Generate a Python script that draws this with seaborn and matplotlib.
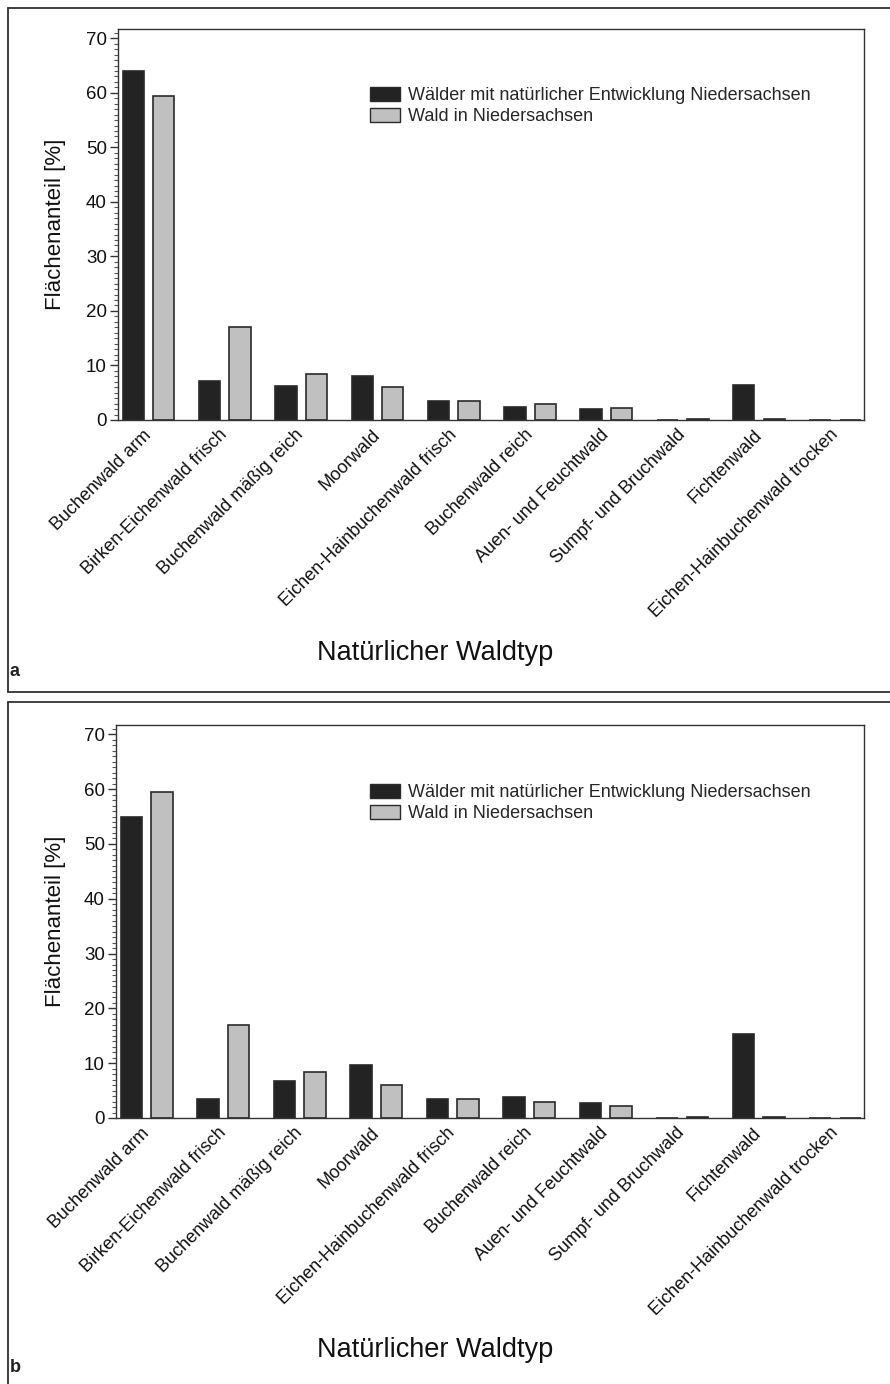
import matplotlib
matplotlib.use("Agg")
import matplotlib.pyplot as plt
import matplotlib.lines as mlines
from matplotlib.patches import Patch
from matplotlib.ticker import MultipleLocator
import pandas as pd
import seaborn as sns

# Natural forest types (x axis)
categories = [
    "Buchenwald arm",
    "Birken-Eichenwald frisch",
    "Buchenwald mäßig reich",
    "Moorwald",
    "Eichen-Hainbuchenwald frisch",
    "Buchenwald reich",
    "Auen- und Feuchtwald",
    "Sumpf- und Bruchwald",
    "Fichtenwald",
    "Eichen-Hainbuchenwald trocken",
]
series_names = [
    "Wälder mit natürlicher Entwicklung Niedersachsen",
    "Wald in Niedersachsen",
]

# Area share [%] per forest type
natural_a = [64.0, 7.1, 6.3, 8.1, 3.4, 2.4, 2.1, 0.0, 6.4, 0.0]
natural_b = [55.0, 3.5, 6.8, 9.6, 3.4, 3.8, 2.7, 0.0, 15.3, 0.0]
forest_nds = [59.5, 17.0, 8.4, 6.0, 3.5, 3.0, 2.2, 0.2, 0.1, 0.0]

y_ticks = [0, 10, 20, 30, 40, 50, 60, 70]
panel_letters = ["a", "b"]
x_title = "Natürlicher Waldtyp"
y_title = "Flächenanteil [%]"

series_colors = ["#232323", "#c0c0c0"]
edge_color = "#2a2a2a"

sns.set_theme(style="white")
plt.rcParams["font.family"] = ["Liberation Sans", "DejaVu Sans"]

W, H = 890, 1384
fig = plt.figure(figsize=(W / 100, H / 100), dpi=100)


def fx(x):
    return x / W


def fy(y):
    return 1 - y / H


def build_frame(natural):
    rows = []
    for cat, v1, v2 in zip(categories, natural, forest_nds):
        rows.append({"Waldtyp": cat, "Reihe": series_names[0], "Anteil": v1})
        rows.append({"Waldtyp": cat, "Reihe": series_names[1], "Anteil": v2})
    return pd.DataFrame(rows)


# pixel boxes (left, top, right, bottom) of each plot area and panel offsets
panels = [
    dict(box=(118, 29, 864, 420), natural=natural_a, dy=0, frame=(7.5, 7.5, 692)),
    dict(box=(116, 725, 864, 1118), natural=natural_b, dy=697, frame=(7.5, 702, 1400)),
]

for letter, p in zip(panel_letters, panels):
    l, t, r, b = p["box"]
    ax = fig.add_axes([fx(l), fy(b), fx(r - l), (b - t) / H])
    df = build_frame(p["natural"])
    sns.barplot(
        data=df, x="Waldtyp", y="Anteil", hue="Reihe",
        order=categories, hue_order=series_names,
        palette=series_colors, width=0.8, gap=0.3,
        edgecolor=edge_color, linewidth=1.2, legend=False, ax=ax,
    )
    ax.set_xlim(-0.4, 9.375)
    ax.set_ylim(0, 71.7)
    ax.set_yticks(y_ticks)
    ax.yaxis.set_minor_locator(MultipleLocator(1))
    ax.tick_params(axis="y", which="major", direction="out", length=6,
                   width=1.0, color="#333333", labelsize=13.5, pad=2,
                   left=True, labelcolor="#111111")
    ax.tick_params(axis="y", which="minor", direction="out", length=3,
                   width=0.8, color="#555555", left=True)
    ax.tick_params(axis="x", length=0, pad=9)
    ax.set_xticks(range(len(categories)))
    ax.set_xticklabels(categories, rotation=45, ha="right", va="center",
                       rotation_mode="anchor", fontsize=13, color="#111111")
    ax.set_xlabel("")
    ax.set_ylabel("")
    for s in ax.spines.values():
        s.set_visible(True)
        s.set_color("#333333")
        s.set_linewidth(1.0)

    handles = [Patch(facecolor=c, edgecolor=edge_color, linewidth=1.0)
               for c in series_colors]
    ax.legend(handles, series_names, loc="upper left",
              bbox_to_anchor=((370 - l) / (r - l), (b - (87 + p["dy"])) / (b - t)),
              frameon=False, fontsize=13, borderpad=0, borderaxespad=0,
              handlelength=1.65, handleheight=0.8, handletextpad=0.45,
              labelspacing=0.2)

    dy = p["dy"]
    fig.text(fx(435), fy(653 + dy), x_title, fontsize=19.5,
             ha="center", va="center", color="#111111")
    fig.text(fx(55), fy(224 + dy), y_title, fontsize=16, rotation=90,
             ha="center", va="center", color="#111111")
    fig.text(fx(15), fy(671 + dy), letter, fontsize=13, fontweight="bold",
             ha="center", va="center", color="#222222",
             family=["Liberation Sans Narrow", "Liberation Sans", "DejaVu Sans"])

    # panel frame (open to the right edge of the page)
    fl, ft, fb = p["frame"]
    for xs, ys in [((fl, W + 5), (ft, ft)), ((fl, fl), (ft, fb)),
                   ((fl, W + 5), (fb, fb))]:
        fig.add_artist(mlines.Line2D([fx(x) for x in xs], [fy(y) for y in ys],
                                     color="#333333", linewidth=1.3))

fig.savefig("out.png", dpi=100)
